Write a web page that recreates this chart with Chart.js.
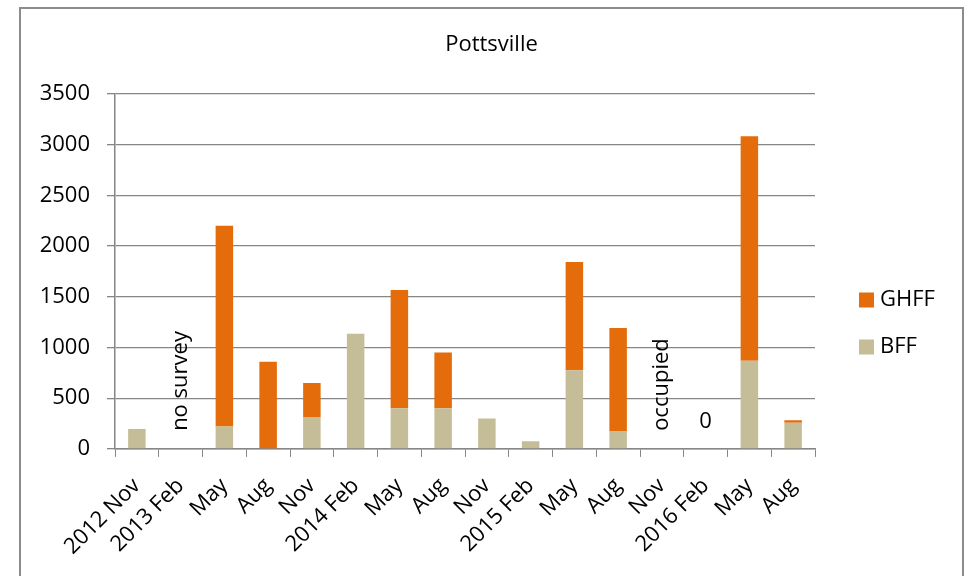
<!DOCTYPE html>
<html>
<head>
<meta charset="utf-8">
<script src="https://cdn.jsdelivr.net/npm/chart.js@4/dist/chart.umd.min.js"></script>
<style>
  html, body { margin: 0; padding: 0; background: #fff; }
  #box {
    position: absolute; left: 19px; top: 7px;
    width: 945px; height: 600px;
    border: 2px solid #8c8c8c; border-bottom: none;
    box-sizing: border-box;
  }
  #wrap { position: relative; width: 941px; height: 598px; }
</style>
</head>
<body>
<div id="box"><div id="wrap"><canvas id="myChart"></canvas></div></div>
<script>
// categorias (trimestres)
const meses = ['2012 Nov', '2013 Feb', 'May', 'Aug', 'Nov', '2014 Feb', 'May', 'Aug',
               'Nov', '2015 Feb', 'May', 'Aug', 'Nov', '2016 Feb', 'May', 'Aug']
// valores
const bff  = [195, null, 220, 0, 315, 1135, 400, 400, 300, 75, 776, 171, null, 0, 868, 258]
const ghff = [0, null, 1980, 860, 335, 0, 1168, 551, 0, 0, 1067, 1021, null, 0, 2216, 25]
const yTicks = [0, 500, 1000, 1500, 2000, 2500, 3000, 3500]
const titulo = 'Pottsville'
// notas escritas dentro do gráfico: [indice, texto, vertical]
const notas = [[1, 'no survey', true], [12, 'occupied', true], [13, '0', false]]

const fonte = '"Open Sans", "DejaVu Sans", sans-serif'
const ctx = document.getElementById('myChart')

// titulo, notas e legenda desenhados a mão
const extras = {
  id: 'extras',
  afterDatasetsDraw(chart) {
    const c = chart.ctx
    const xs = chart.scales.x, ys = chart.scales.y
    const base = ys.getPixelForValue(0)
    c.save()
    c.fillStyle = '#000'
    c.font = '22px ' + fonte
    // titulo centrado na largura toda
    c.textAlign = 'center'
    c.textBaseline = 'middle'
    c.fillText(titulo, chart.width / 2, 36)
    notas.forEach(([i, txt, vert]) => {
      const x = xs.getPixelForValue(i)
      if (vert) {
        c.save()
        c.translate(x, base - 18)
        c.rotate(-Math.PI / 2)
        c.textAlign = 'left'
        c.textBaseline = 'middle'
        c.fillText(txt, 0, 0)
        c.restore()
      } else {
        c.textAlign = 'center'
        c.textBaseline = 'middle'
        c.fillText(txt, x, base - 27)
      }
    })
    // legenda (ordem invertida, GHFF em cima)
    const ca = chart.chartArea
    const ds = chart.data.datasets.slice().reverse()
    ds.forEach((d, k) => {
      const cy = ca.top + 206 + k * 47
      c.fillStyle = d.backgroundColor
      c.fillRect(ca.right + 44, cy - 7.5, 15, 15)
      c.fillStyle = '#000'
      c.textAlign = 'left'
      c.textBaseline = 'middle'
      c.fillText(d.label, ca.right + 65, cy)
    })
    c.restore()
  }
}

grafico = new Chart(ctx, {
  type: 'bar',
  data: {
    labels: meses,
    datasets: [
      { label: 'BFF', data: bff, backgroundColor: '#C4BD97', barPercentage: 0.4, categoryPercentage: 1 },
      { label: 'GHFF', data: ghff, backgroundColor: '#E46C0A', barPercentage: 0.4, categoryPercentage: 1 }
    ]
  },
  options: {
    responsive: true,
    maintainAspectRatio: false,
    animation: false,
    layout: { padding: { left: 0, right: 147, top: 85, bottom: 31 } },
    plugins: {
      legend: { display: false },
      tooltip: { enabled: false },
      title: { display: false }
    },
    scales: {
      x: {
        stacked: true,
        // o rótulo girado pode invadir a margem esquerda
        afterFit: (s) => { s.paddingLeft = 0; s.paddingRight = 0 },
        grid: { display: true, drawOnChartArea: false, drawTicks: true, tickLength: 8, color: '#868686', offset: true },
        border: { display: true, color: '#868686', width: 1.5 },
        ticks: {
          color: '#000', autoSkip: false, maxRotation: 45, minRotation: 45, padding: 16,
          font: { family: fonte, size: 22 }
        }
      },
      y: {
        stacked: true,
        min: 0, max: 3500,
        afterBuildTicks: (ax) => { ax.ticks = yTicks.map(v => ({ value: v })) },
        afterFit: (s) => { s.width = 94 },
        grid: { color: '#868686', lineWidth: 1.3, tickLength: 8 },
        border: { display: true, color: '#868686', width: 1.5 },
        ticks: {
          color: '#000', padding: 17, font: { family: fonte, size: 22 },
          callback: (v) => String(v)
        }
      }
    }
  },
  plugins: [extras]
})
</script>
</body>
</html>
